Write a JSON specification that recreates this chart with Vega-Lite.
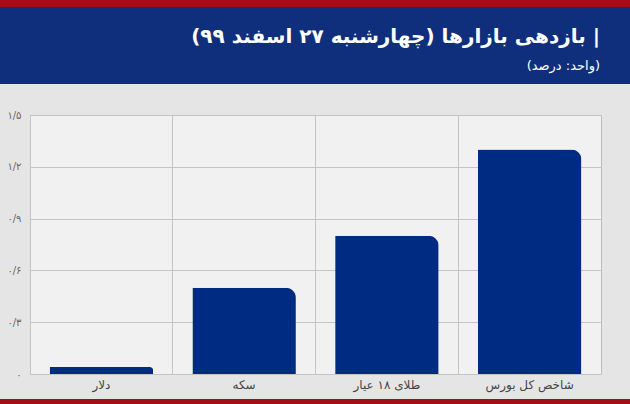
{
  "$schema": "https://vega.github.io/schema/vega-lite/v6.json",
  "padding": 0,
  "background": "#e5e5e5",
  "spacing": 0,
  "bounds": "full",
  "config": {"font": "DejaVu Sans", "concat": {"spacing": 0}},
  "vconcat": [
    {"width": 630, "height": 7, "data": {"values": []}, "mark": "point", "view": {"fill": "#a30d14", "stroke": null}},
    {
      "width": 630, "height": 77,
      "data": {"values": []}, "mark": "point",
      "view": {"fill": "#0f2f7c", "stroke": null},
      "title": {
        "text": "‫| بازدهی بازارها (چهارشنبه ۲۷ اسفند ۹۹)‬",
        "subtitle": "‫(واحد: درصد)‬",
        "anchor": "end", "orient": "top", "frame": "group",
        "offset": -66, "dx": -30,
        "font": "DejaVu Sans", "fontSize": 20, "fontWeight": "bold", "color": "#ffffff",
        "subtitleFont": "DejaVu Sans", "subtitleFontSize": 13, "subtitleColor": "#ffffff", "subtitlePadding": 13
      }
    },
    {"width": 630, "height": 25, "data": {"values": []}, "mark": "point", "view": {"stroke": null}},
    {
      "bounds": "flush",
      "spacing": 0,
      "hconcat": [
        {"width": 30, "height": 259, "data": {"values": []}, "mark": "point", "view": {"stroke": null}},
        {
          "width": 571, "height": 259,
          "view": {"fill": "#f1f1f1", "stroke": "#bdbdbd"},
          "data": {"values": [
            {"market": "دلار", "value": 0.04},
            {"market": "سکه", "value": 0.50},
            {"market": "طلای ۱۸ عیار", "value": 0.80},
            {"market": "شاخص کل بورس", "value": 1.30}
          ]},
          "mark": {"type": "bar", "color": "#002b82", "width": {"band": 0.725}, "cornerRadiusTopRight": 10},
          "encoding": {
            "x": {
              "field": "market", "type": "nominal", "sort": null,
              "scale": {"paddingInner": 0, "paddingOuter": 0},
              "axis": {
                "title": null, "labelAngle": 0, "ticks": false, "domain": false,
                "grid": true, "gridColor": "#c4c4c4", "bandPosition": 0,
                "labelFont": "DejaVu Sans", "labelFontSize": 12, "labelColor": "#444444", "labelPadding": 5
              }
            },
            "y": {
              "field": "value", "type": "quantitative",
              "scale": {"domain": [0, 1.5], "nice": false},
              "axis": {
                "title": null, "values": [0, 0.3, 0.6, 0.9, 1.2, 1.5],
                "labelExpr": "['۰','۰/۳','۰/۶','۰/۹','۱/۲','۱/۵'][round(datum.value/0.3)]",
                "ticks": false, "domain": false, "gridColor": "#c4c4c4",
                "labelFont": "DejaVu Sans", "labelFontSize": 10, "labelColor": "#666666", "labelPadding": 9
              }
            }
          }
        }
      ]
    },
    {"width": 630, "height": 8, "data": {"values": []}, "mark": "point", "view": {"stroke": null}},
    {"width": 630, "height": 5, "data": {"values": []}, "mark": "point", "view": {"fill": "#a30d14", "stroke": null}}
  ]
}
